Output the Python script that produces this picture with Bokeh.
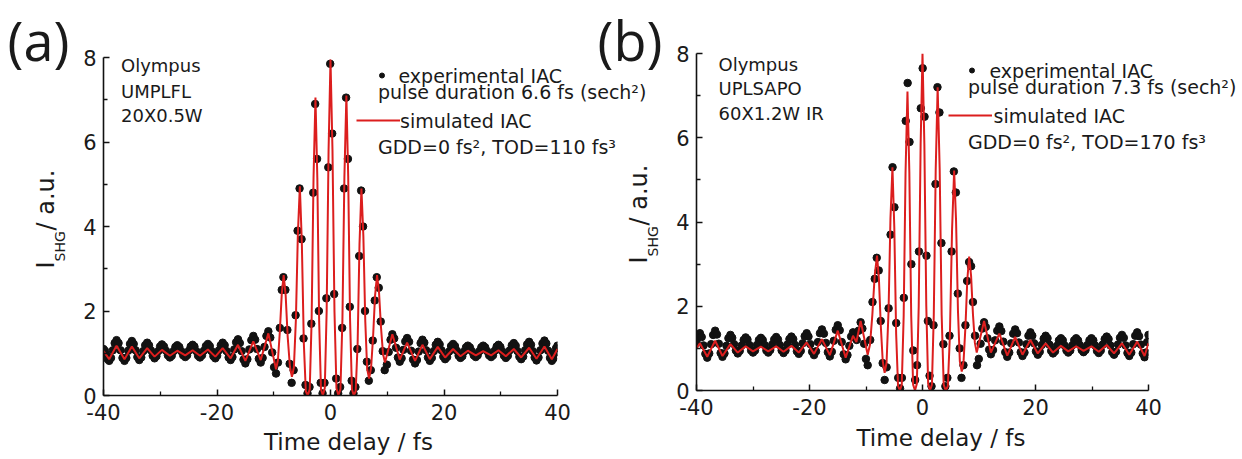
from bokeh.plotting import figure
from bokeh.models import Range1d, FixedTicker, Label, NumeralTickFormatter
from bokeh.embed import file_html
from bokeh.resources import INLINE

# ================= data: panel (a) =================
# simulated IAC (red line): delay / fs, intensity / a.u.
SIM_A_T = [-40.0, -39.0, -37.7, -36.3, -35.0, -33.7, -32.3, -31.0, -29.7, -28.3, -27.0, -25.6,
           -24.3, -23.0, -21.6, -20.3, -19.0, -17.6, -16.3, -15.0, -13.6, -12.3, -10.95, -9.6,
           -9.26, -8.93, -8.59, -8.25, -7.9, -7.55, -7.15, -6.8, -6.45, -6.1, -5.75, -5.4,
           -5.05, -4.7, -4.35, -4.0, -3.66, -3.33, -2.99, -2.65, -2.32, -2.0, -1.68, -1.35,
           -1.01, -0.68, -0.34, 0.0, 0.35, 0.7, 1.05, 1.4, 1.75, 2.1, 2.45, 2.8,
           3.12, 3.45, 3.78, 4.1, 4.44, 4.78, 5.11, 5.45, 5.79, 6.13, 6.46, 6.8,
           7.15, 7.5, 7.85, 8.2, 8.55, 8.9, 9.25, 9.6, 10.9, 12.2, 13.5, 14.9,
           16.2, 17.5, 18.9, 20.2, 21.6, 22.9, 24.2, 25.6, 26.9, 28.3, 29.6, 30.9,
           32.3, 33.6, 35.0, 36.3, 37.7, 39.0, 40.0]
SIM_A_Y = [1.05, 0.86, 1.18, 0.86, 1.16, 0.88, 1.12, 0.92, 1.08, 0.94, 1.06, 0.95,
           1.07, 0.94, 1.09, 0.92, 1.12, 0.88, 1.20, 0.82, 1.28, 0.84, 1.47, 0.62,
           0.84, 1.51, 2.40, 2.85, 2.37, 1.40, 0.68, 0.44, 0.67, 1.79, 3.82, 4.95,
           3.61, 1.24, 0.10, 0.0, 0.15, 1.76, 5.15, 7.05, 5.15, 1.76, 0.15, 0.0,
           0.17, 1.99, 5.80, 7.95, 5.80, 1.99, 0.17, 0.0, 0.15, 1.78, 5.18, 7.10,
           5.18, 1.78, 0.15, 0.0, 0.10, 1.23, 3.58, 4.90, 3.78, 1.75, 0.63, 0.40,
           0.65, 1.38, 2.36, 2.85, 2.44, 1.61, 0.99, 0.78, 1.45, 0.85, 1.25, 0.82,
           1.20, 0.86, 1.15, 0.90, 1.10, 0.93, 1.06, 0.95, 1.05, 0.95, 1.07, 0.93,
           1.10, 0.90, 1.13, 0.87, 1.16, 0.86, 1.10]

# experimental IAC (black dots): (delay / fs, intensity / a.u.)
EXP_A_LEFT = [
    (-40.0, 1.10), (-39.75, 1.06), (-39.5, 0.96), (-39.25, 0.86),
    (-39.0, 0.82), (-38.68, 0.89), (-38.35, 1.07), (-38.03, 1.24),
    (-37.7, 1.31), (-37.35, 1.24), (-37.0, 1.07), (-36.65, 0.89),
    (-36.3, 0.82), (-35.98, 0.89), (-35.65, 1.06), (-35.33, 1.22),
    (-35.0, 1.29), (-34.68, 1.22), (-34.35, 1.07), (-34.03, 0.91),
    (-33.7, 0.84), (-33.35, 0.90), (-33.0, 1.05), (-32.65, 1.19),
    (-32.3, 1.25), (-31.98, 1.19), (-31.65, 1.07), (-31.33, 0.94),
    (-31.0, 0.88), (-30.68, 0.93), (-30.35, 1.05), (-30.03, 1.16),
    (-29.7, 1.21), (-29.35, 1.16), (-29.0, 1.06), (-28.65, 0.95),
    (-28.3, 0.90), (-27.98, 0.94), (-27.65, 1.05), (-27.33, 1.15),
    (-27.0, 1.19), (-26.65, 1.15), (-26.3, 1.05), (-25.95, 0.95),
    (-25.6, 0.91), (-25.28, 0.95), (-24.95, 1.06), (-24.63, 1.16),
    (-24.3, 1.20), (-23.98, 1.16), (-23.65, 1.05), (-23.33, 0.94),
    (-23.0, 0.90), (-22.65, 0.95), (-22.3, 1.06), (-21.95, 1.17),
    (-21.6, 1.22), (-21.28, 1.17), (-20.95, 1.05), (-20.63, 0.93),
    (-20.3, 0.88), (-19.98, 0.94), (-19.65, 1.07), (-19.33, 1.19),
    (-19.0, 1.25), (-18.65, 1.19), (-18.3, 1.05), (-17.95, 0.90),
    (-17.6, 0.84), (-17.28, 0.91), (-16.95, 1.09), (-16.63, 1.26),
    (-16.3, 1.33), (-15.98, 1.24), (-15.65, 1.05), (-15.33, 0.85),
    (-15.0, 0.76), (-14.65, 0.86), (-14.3, 1.09), (-13.95, 1.31),
    (-13.6, 1.41), (-13.28, 1.32), (-12.95, 1.10), (-12.63, 0.87),
    (-12.3, 0.78), (-11.96, 0.89), (-11.63, 1.15), (-11.29, 1.41),
    (-10.95, 1.52), (-10.61, 1.37), (-10.28, 1.02), (-9.94, 0.67),
    (-9.6, 0.52)]
EXP_A_CENTER = [
    (-9.26, 0.78), (-8.93, 1.60), (-8.59, 2.50), (-8.3, 2.80), (-7.95, 2.50), (-7.6, 1.55),
    (-7.2, 0.75), (-6.85, 0.30), (-6.5, 0.60), (-6.15, 1.90), (-5.8, 3.90), (-5.45, 4.90),
    (-5.1, 3.70), (-4.75, 1.35), (-4.4, 0.25), (-4.05, 0.05), (-3.7, 0.20), (-3.38, 1.70),
    (-3.04, 4.80), (-2.7, 6.90), (-2.37, 5.60), (-2.05, 2.00), (-1.73, 0.30), (-1.4, 0.05),
    (-1.06, 0.30), (-0.73, 2.30), (-0.39, 5.40), (-0.05, 7.85), (0.3, 6.20), (0.65, 2.40),
    (1.0, 0.40), (1.35, 0.05), (1.7, 0.20), (2.05, 1.60), (2.4, 4.90), (2.75, 7.05),
    (3.07, 5.60), (3.4, 2.10), (3.73, 0.35), (4.05, 0.05), (4.39, 0.20), (4.73, 1.10),
    (5.06, 3.30), (5.4, 4.85), (5.74, 4.00), (6.08, 2.00), (6.41, 0.80), (6.75, 0.35),
    (7.1, 0.60), (7.45, 1.30), (7.8, 2.25), (8.15, 2.80), (8.5, 2.55), (8.85, 1.75),
    (9.2, 1.05), (9.55, 0.60)]
EXP_A_RIGHT = [
    (9.93, 0.73), (10.25, 1.03), (10.58, 1.32),
    (10.9, 1.45), (11.23, 1.35), (11.55, 1.13), (11.88, 0.90),
    (12.2, 0.80), (12.53, 0.88), (12.85, 1.08), (13.18, 1.28),
    (13.5, 1.36), (13.85, 1.27), (14.2, 1.06), (14.55, 0.85),
    (14.9, 0.76), (15.23, 0.84), (15.55, 1.04), (15.88, 1.24),
    (16.2, 1.32), (16.53, 1.25), (16.85, 1.07), (17.18, 0.90),
    (17.5, 0.82), (17.85, 0.89), (18.2, 1.05), (18.55, 1.20),
    (18.9, 1.27), (19.23, 1.21), (19.55, 1.07), (19.88, 0.92),
    (20.2, 0.86), (20.55, 0.91), (20.9, 1.04), (21.25, 1.17),
    (21.6, 1.22), (21.93, 1.17), (22.25, 1.06), (22.58, 0.94),
    (22.9, 0.89), (23.23, 0.93), (23.55, 1.04), (23.88, 1.14),
    (24.2, 1.18), (24.55, 1.14), (24.9, 1.05), (25.25, 0.95),
    (25.6, 0.91), (25.93, 0.95), (26.25, 1.05), (26.58, 1.14),
    (26.9, 1.18), (27.25, 1.14), (27.6, 1.05), (27.95, 0.95),
    (28.3, 0.91), (28.63, 0.95), (28.95, 1.06), (29.28, 1.16),
    (29.6, 1.20), (29.93, 1.15), (30.25, 1.05), (30.58, 0.94),
    (30.9, 0.89), (31.25, 0.94), (31.6, 1.07), (31.95, 1.19),
    (32.3, 1.24), (32.63, 1.18), (32.95, 1.05), (33.28, 0.92),
    (33.6, 0.86), (33.95, 0.92), (34.3, 1.07), (34.65, 1.21),
    (35.0, 1.27), (35.33, 1.20), (35.65, 1.05), (35.98, 0.90),
    (36.3, 0.83), (36.65, 0.90), (37.0, 1.07), (37.35, 1.23),
    (37.7, 1.30), (38.03, 1.23), (38.35, 1.06), (38.68, 0.89),
    (39.0, 0.82), (39.25, 0.87), (39.5, 1.00), (39.75, 1.12), (40.0, 1.18)]

# ================= data: panel (b) =================
SIM_B_T = [-40.0, -39.4, -38.1, -36.7, -35.4, -34.0, -32.7, -31.3, -30.0, -28.6, -27.3, -25.9,
           -24.6, -23.2, -21.9, -20.5, -19.2, -17.8, -16.4, -15.0, -13.6, -12.3, -11.7, -10.95,
           -9.7, -9.29, -8.88, -8.46, -8.05, -7.71, -7.38, -7.04, -6.7, -6.36, -6.01, -5.67,
           -5.32, -4.99, -4.66, -4.33, -4.0, -3.67, -3.33, -3.0, -2.66, -2.33, -2.0, -1.66,
           -1.33, -1.0, -0.67, -0.33, 0.0, 0.33, 0.67, 1.0, 1.33, 1.67, 2.0, 2.34,
           2.68, 3.04, 3.39, 3.75, 4.1, 4.48, 4.85, 5.23, 5.6, 5.94, 6.28, 6.61,
           6.95, 7.28, 7.61, 7.93, 8.26, 8.6, 8.93, 9.27, 9.6, 10.9, 12.1, 13.6,
           15.0, 16.4, 17.7, 19.1, 20.4, 21.8, 23.1, 24.5, 25.8, 27.2, 28.5, 29.9,
           31.2, 32.6, 33.9, 35.3, 36.6, 38.0, 39.3, 40.0]
SIM_B_Y = [1.00, 1.12, 0.80, 1.18, 0.82, 1.10, 0.90, 1.05, 0.93, 1.04, 0.93, 1.05,
           0.92, 1.06, 0.90, 1.14, 0.87, 1.22, 0.84, 1.42, 0.78, 1.30, 1.15, 1.65,
           0.85, 1.09, 1.79, 2.73, 3.20, 2.64, 1.53, 0.70, 0.42, 0.66, 1.88, 4.08,
           5.30, 3.87, 1.33, 0.11, 0.0, 0.14, 1.78, 5.18, 7.10, 5.18, 1.78, 0.14,
           0.0, 0.16, 2.00, 5.84, 8.00, 5.84, 2.00, 0.16, 0.0, 0.14, 1.80, 5.26,
           7.20, 5.26, 1.80, 0.14, 0.0, 0.10, 1.31, 3.81, 5.22, 4.03, 1.88, 0.69,
           0.45, 0.72, 1.54, 2.63, 3.18, 2.72, 1.81, 1.13, 0.90, 1.65, 0.90, 1.35,
           0.83, 1.27, 0.85, 1.20, 0.88, 1.12, 0.90, 1.06, 0.93, 1.05, 0.94, 1.05,
           0.92, 1.08, 0.88, 1.12, 0.85, 1.16, 0.82, 1.12]

EXP_B_LEFT = [
    (-40.0, 1.15), (-39.7, 1.27),
    (-39.4, 1.36), (-39.08, 1.27), (-38.75, 1.07), (-38.43, 0.87),
    (-38.1, 0.78), (-37.75, 0.88), (-37.4, 1.10), (-37.05, 1.32),
    (-36.7, 1.42), (-36.38, 1.33), (-36.05, 1.11), (-35.73, 0.89),
    (-35.4, 0.80), (-35.05, 0.88), (-34.7, 1.06), (-34.35, 1.24),
    (-34.0, 1.32), (-33.68, 1.25), (-33.35, 1.10), (-33.03, 0.95),
    (-32.7, 0.88), (-32.35, 0.94), (-32.0, 1.07), (-31.65, 1.20),
    (-31.3, 1.26), (-30.98, 1.21), (-30.65, 1.08), (-30.33, 0.95),
    (-30.0, 0.90), (-29.65, 0.95), (-29.3, 1.08), (-28.95, 1.20),
    (-28.6, 1.25), (-28.28, 1.20), (-27.95, 1.08), (-27.63, 0.95),
    (-27.3, 0.90), (-26.95, 0.96), (-26.6, 1.09), (-26.25, 1.21),
    (-25.9, 1.27), (-25.58, 1.21), (-25.25, 1.08), (-24.93, 0.95),
    (-24.6, 0.89), (-24.25, 0.95), (-23.9, 1.09), (-23.55, 1.22),
    (-23.2, 1.28), (-22.88, 1.22), (-22.55, 1.08), (-22.23, 0.93),
    (-21.9, 0.87), (-21.55, 0.94), (-21.2, 1.12), (-20.85, 1.29),
    (-20.5, 1.36), (-20.18, 1.28), (-19.85, 1.10), (-19.53, 0.92),
    (-19.2, 0.84), (-18.85, 0.93), (-18.5, 1.15), (-18.15, 1.36),
    (-17.8, 1.45), (-17.45, 1.35), (-17.1, 1.13), (-16.75, 0.91),
    (-16.4, 0.81), (-16.05, 0.92), (-15.7, 1.18), (-15.35, 1.44),
    (-15.0, 1.55), (-14.65, 1.43), (-14.3, 1.15), (-13.95, 0.86),
    (-13.6, 0.74), (-13.28, 0.84), (-12.95, 1.06), (-12.63, 1.28),
    (-12.3, 1.38), (-11.95, 1.25), (-11.65, 1.20), (-11.3, 1.42),
    (-10.95, 1.62), (-10.64, 1.47), (-10.33, 1.11), (-10.01, 0.75),
    (-9.7, 0.60)]
EXP_B_CENTER = [
    (-9.25, 1.20), (-8.85, 2.10), (-8.45, 2.65), (-8.1, 3.15), (-7.75, 2.85), (-7.4, 1.65),
    (-7.05, 0.65), (-6.7, 0.25), (-6.35, 0.55), (-6.0, 1.95), (-5.65, 3.70), (-5.3, 5.30),
    (-4.97, 4.35), (-4.65, 1.60), (-4.3, 0.30), (-3.97, 0.05), (-3.65, 0.30), (-3.3, 2.20),
    (-2.97, 6.40), (-2.63, 7.30), (-2.3, 5.90), (-1.97, 3.00), (-1.63, 0.95), (-1.3, 0.25),
    (-0.97, 0.60), (-0.63, 3.30), (-0.3, 6.70), (0.03, 7.65), (0.36, 6.50), (0.7, 3.20),
    (0.95, 1.65), (1.25, 0.35), (1.6, 0.10), (1.95, 1.55), (2.3, 4.90), (2.65, 7.20),
    (3.0, 6.60), (3.35, 3.50), (3.7, 1.10), (4.05, 0.10), (4.4, 0.30), (4.78, 1.30),
    (5.15, 3.30), (5.55, 5.20), (5.9, 4.70), (6.25, 2.30), (6.58, 1.00), (6.9, 0.30),
    (7.25, 0.60), (7.6, 1.55), (7.9, 2.60), (8.25, 3.05), (8.6, 2.95), (8.93, 2.10),
    (9.3, 1.30), (9.65, 0.60)]
EXP_B_RIGHT = [
    (9.96, 0.75), (10.28, 1.11), (10.59, 1.47),
    (10.9, 1.62), (11.2, 1.51), (11.5, 1.24), (11.8, 0.97),
    (12.1, 0.86), (12.48, 0.96), (12.85, 1.19), (13.23, 1.42),
    (13.6, 1.52), (13.95, 1.41), (14.3, 1.16), (14.65, 0.91),
    (15.0, 0.80), (15.35, 0.90), (15.7, 1.12), (16.05, 1.35),
    (16.4, 1.45), (16.73, 1.36), (17.05, 1.14), (17.38, 0.91),
    (17.7, 0.82), (18.05, 0.90), (18.4, 1.10), (18.75, 1.30),
    (19.1, 1.38), (19.43, 1.30), (19.75, 1.12), (20.08, 0.93),
    (20.4, 0.85), (20.75, 0.92), (21.1, 1.08), (21.45, 1.23),
    (21.8, 1.30), (22.13, 1.24), (22.45, 1.09), (22.78, 0.94),
    (23.1, 0.88), (23.45, 0.93), (23.8, 1.06), (24.15, 1.19),
    (24.5, 1.24), (24.83, 1.19), (25.15, 1.07), (25.48, 0.95),
    (25.8, 0.90), (26.15, 0.95), (26.5, 1.07), (26.85, 1.19),
    (27.2, 1.24), (27.53, 1.19), (27.85, 1.08), (28.18, 0.96),
    (28.5, 0.91), (28.85, 0.96), (29.2, 1.08), (29.55, 1.19),
    (29.9, 1.24), (30.23, 1.19), (30.55, 1.07), (30.88, 0.94),
    (31.2, 0.89), (31.55, 0.95), (31.9, 1.09), (32.25, 1.22),
    (32.6, 1.28), (32.93, 1.22), (33.25, 1.07), (33.58, 0.91),
    (33.9, 0.85), (34.25, 0.92), (34.6, 1.09), (34.95, 1.25),
    (35.3, 1.32), (35.63, 1.25), (35.95, 1.07), (36.28, 0.89),
    (36.6, 0.82), (36.95, 0.90), (37.3, 1.10), (37.65, 1.30),
    (38.0, 1.38), (38.33, 1.29), (38.65, 1.09), (38.98, 0.88),
    (39.3, 0.79), (39.53, 0.90), (39.77, 1.15), (40.0, 1.32)]

# ================= axes / texts =================
X_TICKS = [-40, -20, 0, 20, 40]
X_MINOR = [-30, -10, 10, 30]
Y_TICKS = [0, 2, 4, 6, 8]
Y_MINOR = [1, 3, 5, 7]
X_LABEL = "Time delay / fs"
PANEL_TAGS = ["(a)", "(b)"]
OBJECTIVES = [["Olympus", "UMPLFL", "20X0.5W"], ["Olympus", "UPLSAPO", "60X1.2W IR"]]
LEGEND_EXP = "experimental IAC"
LEGEND_SIM = "simulated IAC"
PULSE = ["pulse duration 6.6 fs (sech\u00b2)", "pulse duration 7.3 fs (sech\u00b2)"]
DISP = ["GDD=0 fs\u00b2, TOD=110 fs\u00b3", "GDD=0 fs\u00b2, TOD=170 fs\u00b3"]

FONT = "DejaVu Sans"
RED = "#dc1e1e"
DOT = "#121212"
TXT = "#1a1a1a"


def split(pairs):
    return [q[0] for q in pairs], [q[1] for q in pairs]


def make_panel(fl, fw, fr, ft, fh, fb):
    p = figure(frame_width=fw, frame_height=fh,
               min_border_left=fl, min_border_right=fr,
               min_border_top=ft, min_border_bottom=fb,
               x_range=Range1d(-40, 40), y_range=Range1d(0, 8),
               output_backend="svg", toolbar_location=None)
    p.xaxis.ticker = FixedTicker(ticks=X_TICKS, minor_ticks=X_MINOR)
    p.yaxis.ticker = FixedTicker(ticks=Y_TICKS, minor_ticks=Y_MINOR)
    p.xaxis.formatter = NumeralTickFormatter(format="0")
    p.yaxis.formatter = NumeralTickFormatter(format="0")
    for ax in (p.xaxis[0], p.yaxis[0]):
        ax.axis_line_width = 1.6
        ax.axis_line_color = "#111111"
        ax.major_tick_in = 6
        ax.major_tick_out = 0
        ax.minor_tick_in = 4
        ax.minor_tick_out = 0
        ax.major_tick_line_width = 1.5
        ax.minor_tick_line_width = 1.3
        ax.major_tick_line_color = "#111111"
        ax.minor_tick_line_color = "#111111"
        ax.major_label_text_font = FONT
        ax.major_label_text_font_size = "21px"
        ax.major_label_text_color = TXT
    p.xaxis.major_label_standoff = 8
    p.yaxis.major_label_standoff = 7
    p.grid.visible = False
    p.outline_line_color = None
    p.background_fill_color = "white"
    p.border_fill_color = None
    return p


def draw(p, exp_pairs, st, sy):
    et, ey = split(exp_pairs)
    p.scatter(et, ey, size=7.5, color=DOT, line_color=DOT)
    p.line(st, sy, line_color=RED, line_width=2.0)


# ---------- panel (a): canvas at page (0, 0) ----------
pa = make_panel(103, 454, 83, 57, 338, 64)
draw(pa, EXP_A_LEFT + EXP_A_CENTER + EXP_A_RIGHT, SIM_A_T, SIM_A_Y)
pa.styles = {"position": "absolute", "left": "0px", "top": "0px", "z-index": "1"}

# ---------- panel (b): canvas at page (590, 0) ----------
pb = make_panel(106, 452, 94, 53, 337, 69)
draw(pb, EXP_B_LEFT + EXP_B_CENTER + EXP_B_RIGHT, SIM_B_T, SIM_B_Y)
pb.styles = {"position": "absolute", "left": "590px", "top": "0px", "z-index": "2"}

# ---------- transparent overlay for all free texts (page pixel coordinates) ----------
ov = figure(width=1242, height=459, x_range=Range1d(0, 1242), y_range=Range1d(459, 0),
            min_border=0, x_axis_type=None, y_axis_type=None,
            output_backend="svg", toolbar_location=None)
ov.grid.visible = False
ov.outline_line_color = None
ov.background_fill_color = None
ov.border_fill_color = None
ov.styles = {"position": "absolute", "left": "0px", "top": "0px", "z-index": "3"}

SHIFT = 0.3  # baseline correction, fraction of font size


def txt(X, Y, text, size, font=FONT, angle=0.0):
    if angle == 0.0:
        Y = Y - SHIFT * size
    else:
        X = X - SHIFT * size
    ov.add_layout(Label(x=X, y=Y, text=text, text_font=font,
                        text_font_size=f"{size}px", text_color=TXT,
                        text_align="left", text_baseline="alphabetic",
                        angle=angle))


ROT = 1.5707963
# panel (a) texts
txt(7, 56, PANEL_TAGS[0], 54, font="Open Sans")
for i, yy in enumerate([70.7, 96, 120]):
    txt(120.5, yy, OBJECTIVES[0][i], 18)
txt(398, 80.7, LEGEND_EXP, 19)
txt(377.5, 97.3, PULSE[0], 19)
txt(399.5, 126, LEGEND_SIM, 19)
txt(377.5, 151.7, DISP[0], 19)
txt(263.5, 448, X_LABEL, 23)
txt(52.7, 268, "I", 24, angle=ROT)
txt(63.5, 261, "SHG", 14, angle=ROT)
txt(52.7, 230, " / a.u.", 24, angle=ROT)
ov.scatter([381.5], [75], size=5, color=DOT)
ov.line([356, 399.5], [120, 120], line_color=RED, line_width=2.0)

# panel (b) texts
txt(597, 56, PANEL_TAGS[1], 54, font="Open Sans")
for i, yy in enumerate([69.3, 93.3, 118.3]):
    txt(718, yy, OBJECTIVES[1][i], 18)
txt(989, 75.7, LEGEND_EXP, 19)
txt(967.5, 92.3, PULSE[1], 19)
txt(993, 121, LEGEND_SIM, 19)
txt(967.5, 146.7, DISP[1], 19)
txt(856, 444, X_LABEL, 23)
txt(646, 263, "I", 24, angle=ROT)
txt(656.5, 256, "SHG", 14, angle=ROT)
txt(646, 225, " / a.u.", 24, angle=ROT)
ov.scatter([971.5], [70], size=5, color=DOT)
ov.line([948, 991.5], [115, 115], line_color=RED, line_width=2.0)

open("out.html", "w").write(file_html([pa, pb, ov], INLINE))
